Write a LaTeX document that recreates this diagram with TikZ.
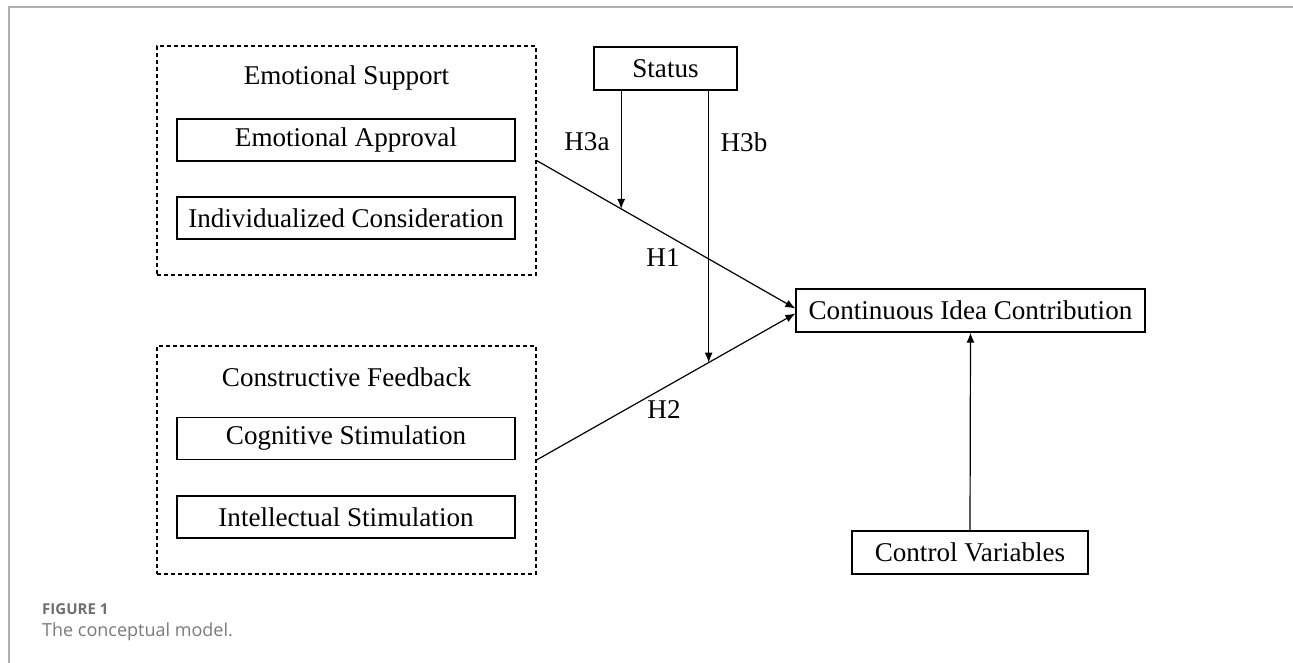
\documentclass[tikz,border=0pt]{standalone}
\usepackage{fontspec}
\setmainfont{Liberation Serif}
\newfontfamily\capfont{Open Sans}
\usetikzlibrary{arrows.meta,calc}
\definecolor{framegray}{HTML}{B0B0B0}
\definecolor{capgray}{HTML}{6E6E6E}
\definecolor{capgraylight}{HTML}{7A7A7A}
\begin{document}
\begin{tikzpicture}[x=1pt,y=-1pt,
  every node/.style={font=\fontsize{27.1}{31}\selectfont, inner sep=0pt},
  solidbox/.style={draw, line width=1.3pt, minimum width=338pt, minimum height=42pt},
  groupbox/.style={draw, dashed, dash pattern=on 4pt off 3pt, line width=1.1pt, minimum width=379pt},
  conn/.style={line width=1.2pt, -{Latex[length=10pt,width=8pt]}},
  lab/.style={}
]
\useasboundingbox (0,0) rectangle (1293,663);
% frame
\draw[framegray, line width=1.5pt] (9,663) -- (9,7) -- (1293,7);
% groups
\node[groupbox, minimum height=229pt] (es) at (346.5,160.5) {};
\node (estitle) at (346.5,78) {Emotional Support};
\node[solidbox] (ea) at (346,140) {Emotional Approval};
\node[solidbox] (ic) at (346,218) {Individualized Consideration};

\node[groupbox, minimum height=228pt] (cf) at (346.5,460) {};
\node (cftitle) at (346.5,377) {Constructive Feedback};
\node[solidbox] (cs) at (346,438.5) {Cognitive Stimulation};
\node[solidbox] (is) at (346,517) {Intellectual Stimulation};

\node[draw, line width=1.3pt, minimum width=143pt, minimum height=43pt] (status) at (665.5,68.5) {Status};
\node[draw, line width=1.3pt, minimum width=349pt, minimum height=43pt] (cic) at (970.5,310.5) {Continuous Idea Contribution};
\node[draw, line width=1.3pt, minimum width=236pt, minimum height=43pt] (cv) at (970,552.5) {Control Variables};

% main paths
\coordinate (cicin1) at ($(cic.west)+(0,-2)$);
\coordinate (cicin2) at ($(cic.west)+(0,3)$);
\draw[conn] (es.east) -- (cicin1);
\draw[conn] (cf.east) -- (cicin2);
\coordinate (m1) at ($(es.east)!0.327!(cicin1)$);
\coordinate (m2) at ($(cf.east)!0.665!(cicin2)$);
\draw[conn] (status.south -| m1) -- (m1);
\draw[conn] (status.south -| m2) -- (m2);
\draw[conn] (cv.north) -- (cic.south);

% labels
\node[lab] (h3a) at (587,142) {H3a};
\node[lab] (h3b) at (744,142) {H3b};
\node[lab] (h1) at (663,258) {H1};
\node[lab] (h2) at (664,410) {H2};

% caption
\node[anchor=west, text=capgray, font=\capfont\bfseries\fontsize{15}{18}\selectfont] (figlab) at (42,609) {FIGURE 1};
\node[anchor=west, text=capgraylight, font=\capfont\fontsize{18}{22}\selectfont] (figcap) at (42,632) {The conceptual model.};
\end{tikzpicture}
\end{document}
